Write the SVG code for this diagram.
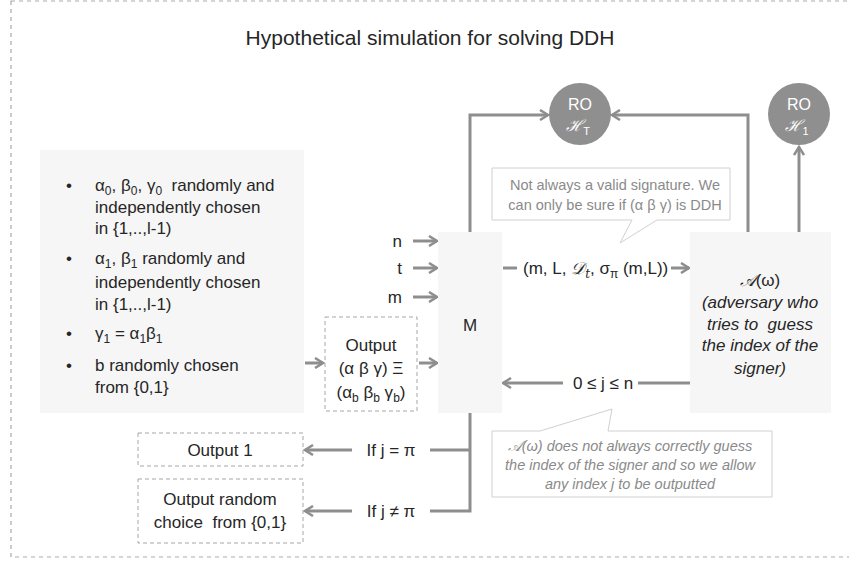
<svg xmlns="http://www.w3.org/2000/svg" width="849" height="563" viewBox="0 0 849 563">
<defs>
<marker id="arr" viewBox="0 0 12 12" refX="10" refY="6" markerWidth="12" markerHeight="12" markerUnits="userSpaceOnUse" orient="auto">
<path d="M2,1 L10,6 L2,11" fill="none" stroke="#8e8e8e" stroke-width="2.5"/>
</marker>
<style>
.t{font-family:"Liberation Sans",Arial,sans-serif;font-size:17px;fill:#262626}
.c{text-anchor:middle}
.it{font-style:italic}
.ln{fill:none;stroke:#8e8e8e;stroke-width:3}
.ar{fill:none;stroke:#8e8e8e;stroke-width:3;marker-end:url(#arr)}
.box{fill:#f6f6f6}
.dash{fill:#fff;stroke:#a6a6a6;stroke-width:1;stroke-dasharray:4 3}
.call{fill:#fff;stroke:#d0d0d0;stroke-width:1}
.ct{font-family:"Liberation Sans",Arial,sans-serif;font-size:14.5px;fill:#8a8a8a;text-anchor:middle}
.ro{fill:#8f8f8f}
.rt{font-family:"Liberation Sans",Arial,sans-serif;font-size:16px;fill:#fff;text-anchor:middle}
.scr{font-family:"DejaVu Serif","Liberation Serif",serif}
</style>
</defs>
<rect x="11" y="1" width="850" height="556" fill="none" stroke="#ababab" stroke-width="1.2" stroke-dasharray="4 4"/>
<text class="t c" x="430" y="45" style="font-size:21px">Hypothetical simulation for solving DDH</text>

<g id="connectors">
<polyline class="ar" points="470,232 470,115 548,115"/>
<polyline class="ar" points="748,232 748,115 612,115"/>
<line class="ar" x1="799" y1="232" x2="799" y2="147"/>
<line class="ar" x1="413" y1="241" x2="437" y2="241"/>
<line class="ar" x1="413" y1="268" x2="437" y2="268"/>
<line class="ar" x1="413" y1="297" x2="437" y2="297"/>
<line class="ar" x1="419" y1="363" x2="437" y2="363"/>
<line class="ar" x1="305" y1="363" x2="323" y2="363"/>
<line class="ln" x1="503" y1="268" x2="517" y2="268"/>
<line class="ar" x1="671" y1="268" x2="689" y2="268"/>
<line class="ln" x1="690" y1="383" x2="638" y2="383"/>
<line class="ar" x1="563" y1="383" x2="503" y2="383"/>
<polyline class="ln" points="470,413 470,511 430,511"/>
<line class="ln" x1="470" y1="450" x2="430" y2="450"/>
<line class="ar" x1="352" y1="450" x2="305" y2="450"/>
<line class="ar" x1="352" y1="511" x2="305" y2="511"/>
</g>

<g id="ro-ht">
<circle class="ro" cx="580" cy="114" r="31"/>
<text class="rt" x="580" y="110">RO</text>
<text class="rt" x="578" y="131"><tspan class="scr" font-style="italic">ℋ</tspan><tspan dy="4" font-size="11">T</tspan></text>
</g>
<g id="ro-h1">
<circle class="ro" cx="799" cy="114" r="31"/>
<text class="rt" x="799" y="110">RO</text>
<text class="rt" x="797" y="131"><tspan class="scr" font-style="italic">ℋ</tspan><tspan dy="4" font-size="11">1</tspan></text>
</g>

<g id="setup">
<rect class="box" x="40" y="150" width="264" height="263"/>
<text class="t" x="66" y="191">•</text>
<text class="t" x="95" y="191" xml:space="preserve">α<tspan dy="4" font-size="12">0</tspan><tspan dy="-4">, β</tspan><tspan dy="4" font-size="12">0</tspan><tspan dy="-4">, γ</tspan><tspan dy="4" font-size="12">0</tspan><tspan dy="-4">  randomly and</tspan></text>
<text class="t" x="95" y="213">independently chosen</text>
<text class="t" x="95" y="234">in {1,..,l-1)</text>
<text class="t" x="66" y="264">•</text>
<text class="t" x="95" y="264">α<tspan dy="4" font-size="12">1</tspan><tspan dy="-4">, β</tspan><tspan dy="4" font-size="12">1</tspan><tspan dy="-4"> randomly and</tspan></text>
<text class="t" x="95" y="288">independently chosen</text>
<text class="t" x="95" y="310">in {1,..,l-1)</text>
<text class="t" x="66" y="339">•</text>
<text class="t" x="95" y="339">γ<tspan dy="4" font-size="12">1</tspan><tspan dy="-4"> = α</tspan><tspan dy="4" font-size="12">1</tspan><tspan dy="-4">β</tspan><tspan dy="4" font-size="12">1</tspan></text>
<text class="t" x="66" y="371">•</text>
<text class="t" x="95" y="371">b randomly chosen</text>
<text class="t" x="95" y="393">from {0,1}</text>
</g>

<g id="output-abg">
<rect class="dash" x="325" y="317" width="92" height="94"/>
<text class="t c" x="371" y="351">Output</text>
<text class="t c" x="371" y="374">(α β γ) Ξ</text>
<text class="t c" x="371" y="398">(α<tspan dy="4" font-size="12">b</tspan><tspan dy="-4"> β</tspan><tspan dy="4" font-size="12">b</tspan><tspan dy="-4"> γ</tspan><tspan dy="4" font-size="12">b</tspan><tspan dy="-4">)</tspan></text>
</g>

<g id="inputs">
<text class="t" x="402" y="247" text-anchor="end">n</text>
<text class="t" x="402" y="274" text-anchor="end">t</text>
<text class="t" x="402" y="303" text-anchor="end">m</text>
</g>

<g id="m">
<rect class="box" x="438" y="232" width="64" height="181"/>
<text class="t c" x="470" y="331">M</text>
</g>

<g id="adversary">
<rect class="box" x="690" y="232" width="141" height="181"/>
<text class="t c" x="760" y="286"><tspan class="scr" font-style="italic">𝒜</tspan>(ω)</text>
<text class="t c it" x="760" y="308">(adversary who</text>
<text class="t c it" x="760" y="330" xml:space="preserve">tries to  guess</text>
<text class="t c it" x="760" y="351">the index of the</text>
<text class="t c it" x="760" y="374">signer)</text>
</g>

<g id="labels">
<text class="t" x="523" y="274">(m, L, <tspan class="scr" font-style="italic">𝒟</tspan><tspan dy="4" font-size="12" class="scr" font-style="italic">t</tspan><tspan dy="-4">, σ</tspan><tspan dy="4" font-size="12">π</tspan><tspan dy="-4"> (m,L))</tspan></text>
<text class="t c" x="603" y="389">0 ≤ j ≤ n</text>
<text class="t c" x="391" y="456">If j = π</text>
<text class="t c" x="391" y="517">If j ≠ π</text>
</g>

<g id="callout-signature">
<path class="call" d="M492,168 H730 V220 H657 L620,243 L632,220 H492 Z"/>
<text class="ct" x="615" y="190">Not always a valid signature. We</text>
<text class="ct" x="615" y="210">can only be sure if (α β γ) is DDH</text>
</g>

<g id="callout-index">
<path class="call" d="M492,431 H540 L612,409 L608,431 H772 V497 H492 Z"/>
<text class="ct it" x="630" y="451"><tspan class="scr">𝒜</tspan>(ω) does not always correctly guess</text>
<text class="ct it" x="630" y="470">the index of the signer and so we allow</text>
<text class="ct it" x="630" y="489">any index j to be outputted</text>
</g>

<g id="output-1">
<rect class="dash" x="138" y="433" width="165" height="33"/>
<text class="t c" x="220" y="456">Output 1</text>
</g>
<g id="output-random">
<rect class="dash" x="138" y="479" width="165" height="64"/>
<text class="t c" x="220" y="505">Output random</text>
<text class="t c" x="220" y="528" xml:space="preserve">choice  from {0,1}</text>
</g>
</svg>
